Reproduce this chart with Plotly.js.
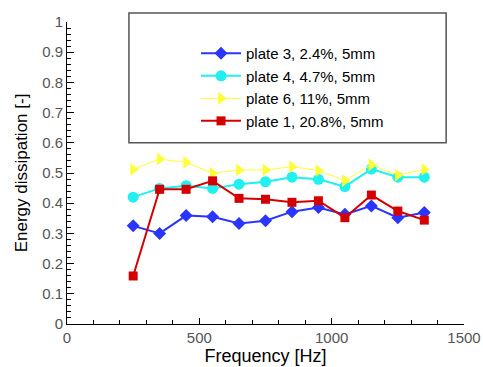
<!DOCTYPE html>
<html>
<head>
<meta charset="utf-8">
<script src="https://cdn.plot.ly/plotly-3.0.1.min.js"></script>
<style>html,body{margin:0;padding:0;background:#fff;}#chart{width:483px;height:367px;}</style>
</head>
<body>
<div id="chart"></div>
<script>
var frequency = [250, 350, 450, 550, 650, 750, 850, 950, 1050, 1150, 1250, 1350];
var plate3 = [0.325, 0.300, 0.359, 0.355, 0.333, 0.342, 0.372, 0.386, 0.363, 0.391, 0.352, 0.369];
var plate4 = [0.420, 0.449, 0.458, 0.449, 0.463, 0.471, 0.486, 0.479, 0.455, 0.513, 0.486, 0.486];
var plate6 = [0.512, 0.546, 0.535, 0.499, 0.510, 0.510, 0.521, 0.508, 0.475, 0.527, 0.493, 0.512];
var plate1 = [0.159, 0.446, 0.446, 0.474, 0.416, 0.413, 0.403, 0.408, 0.352, 0.427, 0.374, 0.344];
var names = ["plate 3, 2.4%, 5mm", "plate 4, 4.7%, 5mm", "plate 6, 11%, 5mm", "plate 1, 20.8%, 5mm"];

var traces = [
  {x: frequency, y: plate3, name: names[0], mode: "lines+markers",
   line: {color: "#2a35ff", width: 2}, marker: {symbol: "diamond", size: 10, color: "#2a35ff"}},
  {x: frequency, y: plate4, name: names[1], mode: "lines+markers",
   line: {color: "#1ff0f0", width: 2}, marker: {symbol: "circle", size: 11, color: "#1ff0f0"}},
  {x: frequency, y: plate6, name: names[2], mode: "lines+markers",
   line: {color: "#ffff33", width: 1}, marker: {symbol: "triangle-right", size: 11, color: "#ffff33"}},
  {x: frequency, y: plate1, name: names[3], mode: "lines+markers",
   line: {color: "#d40000", width: 2}, marker: {symbol: "square", size: 9, color: "#d40000"}}
];

var tickFont = {family: "Liberation Sans, Arial, sans-serif", size: 15, color: "#555"};
var layout = {
  width: 483, height: 367,
  margin: {l: 67, r: 19, t: 22, b: 43},
  paper_bgcolor: "#fff", plot_bgcolor: "#fff",
  showlegend: true,
  xaxis: {
    range: [0, 1500], tickvals: [0, 500, 1000, 1500], ticktext: ["0", "500", "1000", "1500"],
    ticks: "inside", ticklen: 6, tickcolor: "#000", tickwidth: 1,
    minor: {dtick: 100, ticks: "inside", ticklen: 4, tickcolor: "#000"},
    showline: true, linecolor: "#000", linewidth: 1, mirror: false,
    showgrid: false, zeroline: false, tickfont: tickFont,
    title: {text: "Frequency [Hz]", font: {family: "Liberation Sans, Arial, sans-serif", size: 18, color: "#000"}, standoff: 2}
  },
  yaxis: {
    range: [0, 1], tickvals: [0, 0.1, 0.2, 0.3, 0.4, 0.5, 0.6, 0.7, 0.8, 0.9, 1],
    ticktext: ["0", "0.1", "0.2", "0.3", "0.4", "0.5", "0.6", "0.7", "0.8", "0.9", "1"],
    ticks: "inside", ticklen: 7, tickcolor: "#000", tickwidth: 1,
    minor: {dtick: 0.02, ticks: "inside", ticklen: 4, tickcolor: "#000"},
    showline: true, linecolor: "#000", linewidth: 1, mirror: false,
    showgrid: false, zeroline: false, tickfont: tickFont,
    title: {text: "Energy dissipation [-]", font: {family: "Liberation Sans, Arial, sans-serif", size: 17, color: "#000"}, standoff: 10}
  },
  legend: {
    x: 0.325, y: 0.95, xanchor: "left", yanchor: "top",
    bgcolor: "rgba(0,0,0,0)", borderwidth: 0,
    font: {family: "Liberation Sans, Arial, sans-serif", size: 15, color: "#000"},
    tracegroupgap: 0, itemwidth: 40
  },
  shapes: [{
    type: "rect", xref: "paper", yref: "paper",
    x0: 0.156, x1: 0.955, y0: 0.6, y1: 1.03,
    line: {color: "#555", width: 1.5}, fillcolor: "rgba(0,0,0,0)", layer: "below"
  }]
};
Plotly.newPlot("chart", traces, layout, {displayModeBar: false, staticPlot: true});
</script>
</body>
</html>
